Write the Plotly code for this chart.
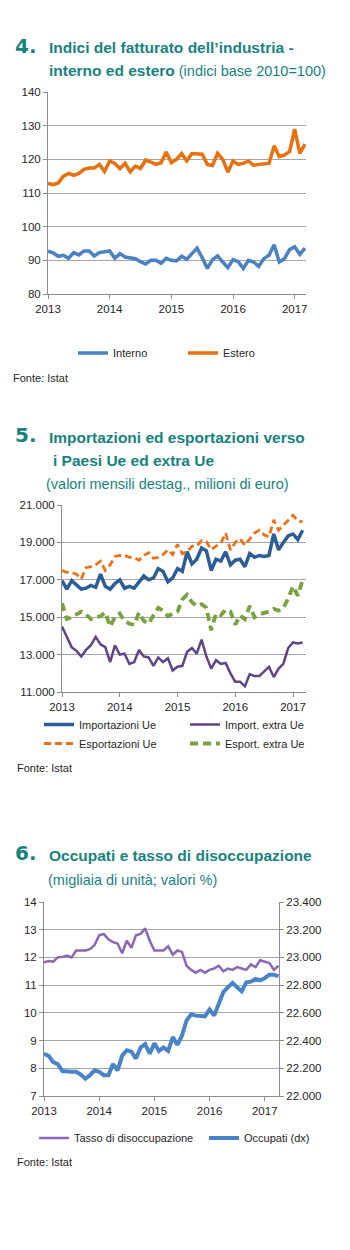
import plotly.graph_objects as go

W, H = 350, 1250

# ---------------- data ----------------
years = ["2013", "2014", "2015", "2016", "2017"]
year_ticks = [0, 12, 24, 36, 48]

# Chart 4 : indici del fatturato (Jan 2013 - Mar 2017)
interno = [92.7, 92.2, 91.2, 91.5, 90.6, 92.3, 91.6, 92.8, 92.8, 91.3, 92.3, 92.5,
           92.8, 90.6, 92.0, 91.0, 90.8, 90.5, 89.6, 88.9, 90.0, 90.0, 89.1, 90.6,
           90.0, 89.8, 91.2, 90.3, 92.0, 93.6, 90.8, 87.6, 90.2, 91.3, 89.5, 87.8,
           90.2, 89.6, 87.6, 90.0, 89.5, 88.2, 90.5, 91.5, 94.6, 89.5, 90.5, 93.2,
           94.0, 91.8, 93.6]
estero = [112.8, 112.5, 113.0, 115.0, 115.8, 115.2, 115.8, 117.0, 117.4, 117.4, 118.5, 116.4,
          119.5, 118.8, 117.2, 118.8, 116.3, 118.0, 117.3, 119.8, 119.2, 118.5, 119.0, 122.2,
          119.0, 120.0, 121.7, 119.5, 121.7, 121.5, 121.5, 118.5, 118.2, 121.8, 120.0, 116.2,
          119.5, 118.5, 118.8, 119.5, 118.2, 118.5, 118.6, 118.8, 124.0, 120.8, 121.3, 122.3,
          129.0, 121.8, 124.5]

# Chart 5 : importazioni / esportazioni (Jan 2013 - Mar 2017)
import_ue = [16950, 16500, 16950, 16750, 16500, 16550, 16700, 16600, 17300, 16650, 16500, 16800,
             17000, 16550, 16650, 16550, 16900, 17200, 17000, 17100, 17600, 17450, 16900, 17100,
             17600, 17450, 18500, 17850, 18100, 18700, 18550, 17500, 18100, 18000, 18500, 17800,
             18050, 18100, 17700, 18400, 18200, 18300, 18250, 18300, 19450, 18600, 19000, 19350,
             19450, 19150, 19650]
import_extra = [14500, 13950, 13400, 13200, 12900, 13250, 13500, 13950, 13550, 13400, 12600, 13500,
                13000, 13050, 12500, 12600, 13250, 12900, 12850, 12400, 12850, 12600, 12800, 12150,
                12350, 12400, 13150, 13350, 13050, 13800, 12900, 12250, 12700, 12500, 12550, 12000,
                11550, 11550, 11300, 11950, 11850, 11850, 12100, 12350, 11800, 12250, 12500, 13350,
                13650, 13600, 13650]
export_ue = [17500, 17400, 17400, 17300, 17050, 17650, 17700, 17800, 18000, 17500, 17800, 18250,
             18300, 18300, 18200, 18200, 18050, 18300, 18450, 18150, 18200, 18350, 18600, 18350,
             18900, 18400, 18500, 18800, 18800, 19100, 19050, 18600, 18800, 18950, 19500, 18600,
             19000, 19200, 18850, 19200, 19500, 19650, 19400, 19300, 20200, 19650, 19900, 20200,
             20450, 20150, 20100]
export_extra = [15750, 14900, 15000, 15150, 15300, 15150, 14900, 15000, 15050, 15250, 14500, 15000,
                15200, 14800, 14650, 14600, 15250, 14800, 14650, 15100, 15500, 15350, 15050, 15200,
                15300, 15950, 16200, 15800, 15600, 15700, 15500, 14300, 15200, 15100, 15400, 15300,
                14600, 15100, 14900, 15600, 15000, 15150, 15200, 15300, 15450, 15350, 15500, 16000,
                16650, 16150, 17000]

# Chart 6 : occupati e disoccupazione (Jan 2013 - Apr 2017)
disoccupazione = [11.82, 11.87, 11.85, 12.0, 12.02, 12.07, 12.0, 12.25, 12.25, 12.25, 12.3, 12.45,
                  12.8, 12.85, 12.65, 12.55, 12.5, 12.15, 12.6, 12.35, 12.8, 12.85, 13.05, 12.6,
                  12.25, 12.25, 12.25, 12.4, 12.1, 12.25, 12.2, 11.7, 11.55, 11.45, 11.55, 11.45,
                  11.55, 11.6, 11.7, 11.5, 11.6, 11.55, 11.65, 11.6, 11.55, 11.75, 11.65, 11.9,
                  11.85, 11.8, 11.55, 11.7]
occupati = [22305, 22290, 22245, 22230, 22180, 22175, 22175, 22175, 22155, 22125, 22150, 22185,
            22175, 22150, 22150, 22230, 22185, 22290, 22330, 22320, 22270, 22350, 22375, 22305,
            22380, 22325, 22350, 22325, 22425, 22370, 22435, 22545, 22590, 22580, 22580, 22575,
            22625, 22580, 22665, 22750, 22785, 22815, 22785, 22755, 22820, 22825, 22845, 22835,
            22850, 22875, 22875, 22865]

# ---------------- styling ----------------
TEAL = "#17837e"
SANS = "Liberation Sans, Arial, sans-serif"
NUMF = "DejaVu Sans, sans-serif"
TICKF = dict(family=SANS, size=11.5, color="#262626")
LEGF = dict(family=SANS, size=11, color="#262626")
GRID = "#a6a6a6"
AXC = "#8c8c8c"


def px_x(p):
    return p / W


def px_y(p):
    return 1 - p / H


fig = go.Figure()

# ---- chart 4 ----
fig.add_trace(go.Scatter(x=list(range(len(interno))), y=interno, name="Interno", mode="lines",
                         line=dict(color="#4a80c4", width=3.5), xaxis="x", yaxis="y", legend="legend"))
fig.add_trace(go.Scatter(x=list(range(len(estero))), y=estero, name="Estero", mode="lines",
                         line=dict(color="#e8700e", width=3.5), xaxis="x", yaxis="y", legend="legend"))

# ---- chart 5 ----
n2 = len(import_ue)
fig.add_trace(go.Scatter(x=list(range(n2)), y=import_ue, name="Importazioni Ue", mode="lines",
                         line=dict(color="#2c5d96", width=3.5), xaxis="x2", yaxis="y2", legend="legend2"))
fig.add_trace(go.Scatter(x=list(range(n2)), y=import_extra, name="Import. extra Ue", mode="lines",
                         line=dict(color="#5e4489", width=2.5), xaxis="x2", yaxis="y2", legend="legend2"))
fig.add_trace(go.Scatter(x=list(range(n2)), y=export_ue, name="Esportazioni Ue", mode="lines",
                         line=dict(color="#ee7118", width=2.8, dash="7px,4px"), xaxis="x2", yaxis="y2",
                         legend="legend2"))
fig.add_trace(go.Scatter(x=list(range(n2)), y=export_extra, name="Esport. extra Ue", mode="lines",
                         line=dict(color="#79a23e", width=3.8, dash="8px,5px"), xaxis="x2", yaxis="y2",
                         legend="legend2"))

# ---- chart 6 ----
n3 = len(disoccupazione)
fig.add_trace(go.Scatter(x=list(range(n3)), y=disoccupazione, name="Tasso di disoccupazione", mode="lines",
                         line=dict(color="#8a68b3", width=2.5), xaxis="x3", yaxis="y3", legend="legend3"))
fig.add_trace(go.Scatter(x=list(range(n3)), y=occupati, name="Occupati (dx)", mode="lines",
                         line=dict(color="#4a84c8", width=4), xaxis="x3", yaxis="y4", legend="legend3"))


def xaxis(left, right, rng, anchor):
    return dict(domain=[px_x(left), px_x(right)], range=rng, tickmode="array", tickvals=year_ticks,
                ticktext=years, showgrid=False, zeroline=False, showline=True, linecolor=AXC,
                linewidth=1, ticks="outside", ticklen=4, tickcolor=AXC, tickfont=TICKF,
                anchor=anchor, fixedrange=True, automargin=False)


def yaxis(top, bottom, rng, dtick, anchor, side="left", grid=True, fmt=None):
    d = dict(domain=[px_y(bottom), px_y(top)], range=rng, dtick=dtick, tick0=rng[0], showgrid=grid,
             gridcolor=GRID, gridwidth=1, zeroline=False, showline=True, linecolor=AXC,
             linewidth=1, ticks="outside", ticklen=4, tickcolor=AXC, tickfont=TICKF,
             anchor=anchor, side=side, fixedrange=True, automargin=False)
    if fmt:
        d["tickformat"] = fmt
    return d


def legend(x, y, entrywidth):
    return dict(orientation="h", x=px_x(x), y=px_y(y), xanchor="left", yanchor="middle",
                font=LEGF, entrywidth=entrywidth, itemwidth=30, bgcolor="rgba(0,0,0,0)",
                tracegroupgap=0, borderwidth=0)


layout = dict(
    template="none",
    width=W, height=H, margin=dict(l=0, r=0, t=0, b=0, pad=0, autoexpand=False),
    paper_bgcolor="white", plot_bgcolor="white", separators=",.",
    xaxis=xaxis(48, 306, [0, 50.2], "y"),
    yaxis=yaxis(92, 294, [80, 140], 10, "x"),
    xaxis2=xaxis(62, 306, [0, 50.7], "y2"),
    yaxis2=yaxis(505, 692, [11000, 21000], 2000, "x2", fmt=",d"),
    xaxis3=xaxis(44, 279, [0, 51.1], "y3"),
    yaxis3=yaxis(902, 1096, [7, 14], 1, "x3"),
    yaxis4=dict(overlaying="y3", side="right", range=[22000, 23400], dtick=200, tick0=22000,
                showgrid=False, zeroline=False, showline=True, linecolor=AXC, linewidth=1,
                ticks="outside", ticklen=4, tickcolor=AXC, tickfont=TICKF, tickformat=",d",
                anchor="x3", fixedrange=True, automargin=False),
    showlegend=True,
    legend=legend(73, 353, 65),
    legend2=legend(39, 734, 101),
    legend3=legend(34, 1138, 125),
)
fig.update_layout(**layout)

# ---------------- titles & notes ----------------
ann = []


def text(x, y, s, size, family, color=TEAL, xanchor="left", yanchor="middle"):
    ann.append(dict(x=px_x(x), y=px_y(y), xref="paper", yref="paper", text=s, showarrow=False,
                    xanchor=xanchor, yanchor=yanchor, align="left",
                    font=dict(family=family, size=size, color=color)))


# chart 4
text(13, 46, "<b>4.</b>", 20, NUMF)
text(47, 48, "<b>Indici del fatturato dell’industria -</b>", 15.5, SANS)
text(47, 71, "<b>interno ed estero</b><span style='font-size:14.5px'> (indici base 2010=100)</span>",
     15.5, SANS)
text(11, 378, "Fonte: Istat", 11, SANS, color="#262626")

# chart 5
text(13, 435, "<b>5.</b>", 20, NUMF)
text(47, 437, "<b>Importazioni ed esportazioni verso</b>", 15.5, SANS)
text(51, 460, "<b>i Paesi Ue ed extra Ue</b>", 15.5, SANS)
text(44, 484, "(valori mensili destag., milioni di euro)", 14.5, SANS)
text(15, 768, "Fonte: Istat", 11, SANS, color="#262626")

# chart 6
text(13, 853, "<b>6.</b>", 20, NUMF)
text(47, 855, "<b>Occupati e tasso di disoccupazione</b>", 15.5, SANS)
text(46, 880, "(migliaia di unità; valori %)", 14.5, SANS)
text(15, 1162, "Fonte: Istat", 11, SANS, color="#262626")

fig.update_layout(annotations=ann)

fig.write_html("out.html")
